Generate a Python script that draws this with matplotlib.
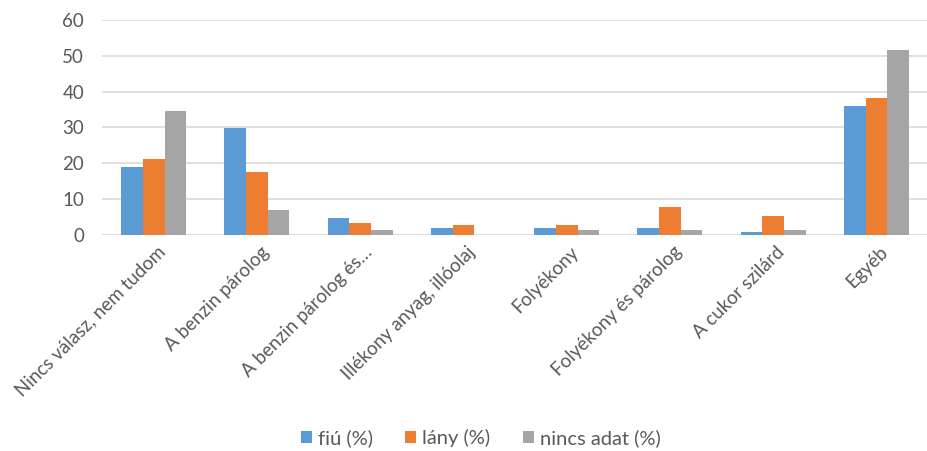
import numpy as np
import matplotlib.pyplot as plt

categories = ["Nincs válasz, nem tudom", "A benzin párolog", "A benzin párolog és…",
              "Illékony anyag, illóolaj", "Folyékony", "Folyékony és párolog",
              "A cukor szilárd", "Egyéb"]
fiu = [19.0, 29.8, 4.7, 2.0, 2.0, 2.0, 0.9, 35.9]
lany = [21.3, 17.5, 3.2, 2.7, 2.7, 7.9, 5.4, 38.3]
nincs = [34.5, 6.9, 1.5, 0.0, 1.5, 1.5, 1.5, 51.5]
series = ["fiú (%)", "lány (%)", "nincs adat (%)"]
colors = ["#5B9BD5", "#ED7D31", "#A5A5A5"]

plt.rcParams['font.family'] = ['Lato', 'DejaVu Sans']
text_col = "#595959"

fig = plt.figure(figsize=(9.28, 4.51), dpi=100)
ax = fig.add_axes([0.110, 0.479, 0.890, 0.477])

x = np.arange(len(categories))
w = 0.21
for i, (vals, name, c) in enumerate(zip([fiu, lany, nincs], series, colors)):
    ax.bar(x + (i - 1) * w, vals, w, color=c, label=name, zorder=3)

ax.set_xlim(-0.5, len(categories) - 0.5)
ax.set_ylim(0, 60)
ax.set_yticks(range(0, 61, 10))
ax.yaxis.grid(True, color="#D9D9D9", linewidth=1.2, zorder=0)
for s in ax.spines.values():
    s.set_visible(False)
ax.tick_params(axis='both', length=0, colors=text_col, labelsize=13.5)
ax.tick_params(axis='y', pad=13)
ax.tick_params(axis='x', pad=6)
ax.set_xticks(x + 0.03)
ax.set_xticklabels(categories, rotation=45, ha='right', rotation_mode='anchor')

fig.legend(loc='center', bbox_to_anchor=(0.518, 0.029), ncol=3, frameon=False,
           fontsize=14.5, labelcolor=text_col, handlelength=0.55, handleheight=0.55,
           handletextpad=0.3, columnspacing=1.6)

fig.savefig("out.png")
